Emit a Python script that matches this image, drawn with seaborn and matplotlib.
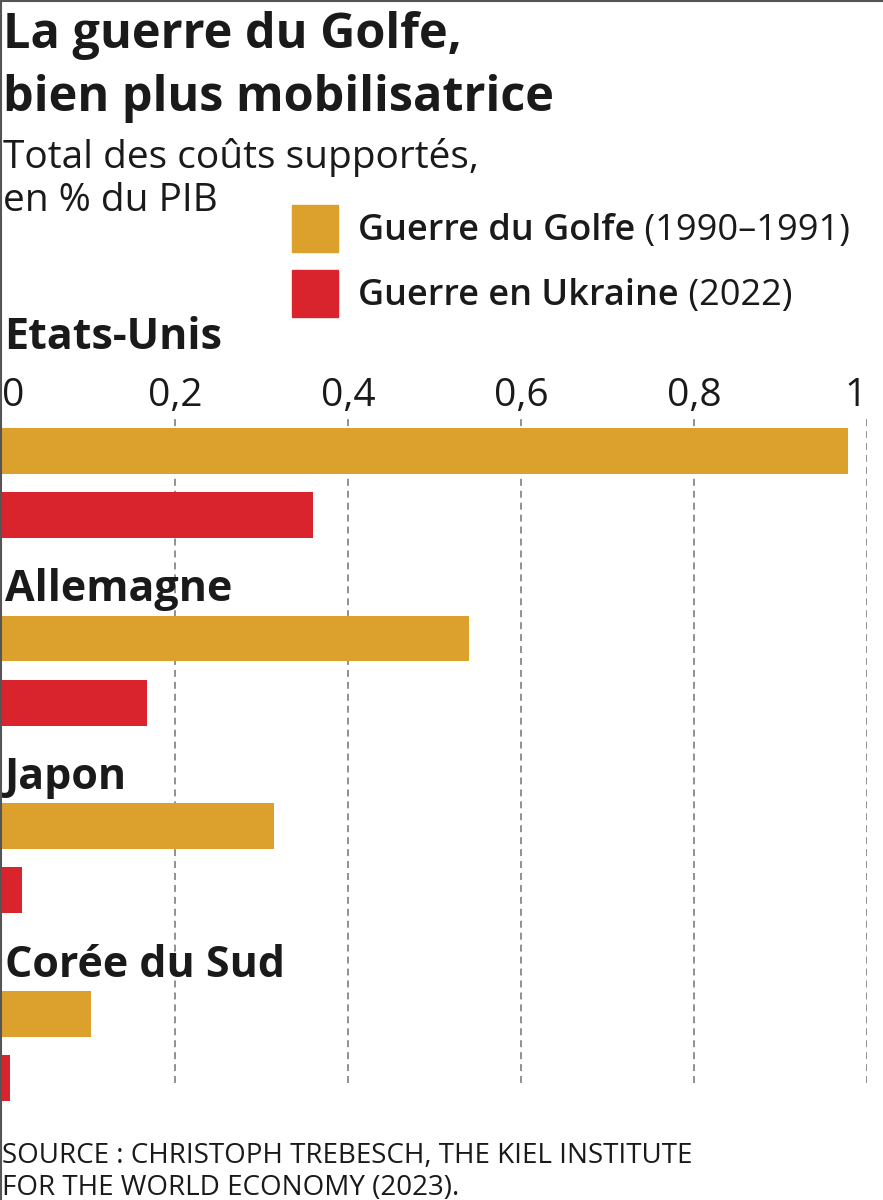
import matplotlib
matplotlib.use('Agg')
import matplotlib.pyplot as plt
from matplotlib.patches import Rectangle
from matplotlib.lines import Line2D
import seaborn as sns
import pandas as pd

# Data (total costs, % of GDP)
countries = ['Etats-Unis', 'Allemagne', 'Japon', 'Corée du Sud']
golfe = [0.978, 0.54, 0.314, 0.103]
ukraine = [0.36, 0.168, 0.023, 0.009]
series = ['Guerre du Golfe', 'Guerre en Ukraine']
periods = ['(1990–1991)', '(2022)']
colors = ['#DCA02C', '#D9232D']
ticks = [0, 0.2, 0.4, 0.6, 0.8, 1]
tick_labels = ['0', '0,2', '0,4', '0,6', '0,8', '1']

df = pd.DataFrame({'pays': countries, series[0]: golfe, series[1]: ukraine})
df = df.melt(id_vars='pays', var_name='guerre', value_name='valeur')

sns.set_theme(style='white')
plt.rcParams['font.family'] = ['Open Sans', 'DejaVu Sans']
plt.rcParams['lines.scale_dashes'] = False
ink = '#1a1a1a'

W, H = 883, 1200
fig = plt.figure(figsize=(W / 100, H / 100), dpi=100)
ax = fig.add_axes([2 / W, 1 - 1083 / H, 865 / W, (1083 - 418) / H])

sns.barplot(data=df, y='pays', x='valeur', hue='guerre', hue_order=series,
            palette=colors, orient='h', width=0.685, gap=0.285,
            saturation=1, linewidth=0, legend=False, ax=ax)
for p in ax.patches:
    p.set_clip_on(False)

ax.set_xlim(0, 1)
ax.set_ylim(3.197, -0.346)
ax.xaxis.tick_top()
ax.set_xticks(ticks)
ax.set_xticklabels(tick_labels, fontsize=28, color=ink)
ax.xaxis.get_major_ticks()[0].label2.set_ha('left')
ax.xaxis.get_major_ticks()[-1].label2.set_ha('right')
ax.tick_params(axis='x', length=0, pad=2)
ax.set_yticks([])
ax.set_xlabel('')
ax.set_ylabel('')
sns.despine(ax=ax, left=True, bottom=True, top=True, right=True)
ax.grid(axis='x', color='#888888', linewidth=1.3, linestyle=(0, (5, 3.6)))
ax.xaxis.get_gridlines()[0].set_visible(False)
ax.set_axisbelow(True)

# country labels above each pair of bars
for i, name in enumerate(countries):
    y = i - 0.37 if i else -0.714
    ax.text(0.003, y, name, fontsize=31, weight='bold', color=ink,
            va='baseline', ha='left', clip_on=False)

# title and subtitle
fig.text(3 / W, 1 - 48 / H, 'La guerre du Golfe,', fontsize=35, weight='bold', color=ink)
fig.text(3 / W, 1 - 111 / H, 'bien plus mobilisatrice', fontsize=35, weight='bold', color=ink)
fig.text(3 / W, 1 - 168 / H, 'Total des coûts supportés,', fontsize=28, color=ink)
fig.text(3 / W, 1 - 211 / H, 'en % du PIB', fontsize=28, color=ink)

# legend
for k, (name, per, c) in enumerate(zip(series, periods, colors)):
    top = 205 + k * 65
    fig.patches.append(Rectangle((292 / W, 1 - (top + 47) / H), 46 / W, 47 / H,
                                 transform=fig.transFigure, color=c, figure=fig))
    t1 = fig.text(358 / W, 1 - (top + 35) / H, name, fontsize=26, weight='semibold', color=ink)
    ax.annotate(' ' + per, xy=(1, 0), xycoords=t1, va='bottom', ha='left',
                fontsize=26, color=ink, annotation_clip=False)

# source
fig.text(2 / W, 1 - 1163 / H, 'SOURCE : CHRISTOPH TREBESCH, THE KIEL INSTITUTE',
         fontsize=20, color=ink)
fig.text(2 / W, 1 - 1195 / H, 'FOR THE WORLD ECONOMY (2023).',
         fontsize=20, color=ink)

# frame lines on left and top
fig.add_artist(Line2D([0.001, 0.001], [0, 1], color='#555555', lw=1.5, transform=fig.transFigure))
fig.add_artist(Line2D([0, 1], [0.999, 0.999], color='#555555', lw=1.5, transform=fig.transFigure))

fig.savefig('out.png', dpi=100)
